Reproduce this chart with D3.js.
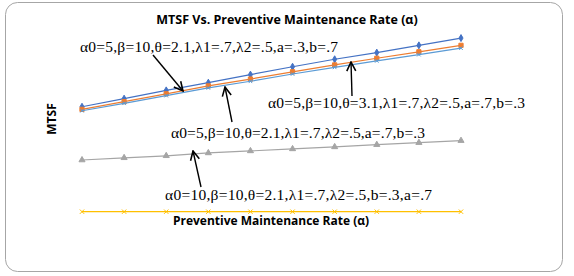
<!DOCTYPE html>
<html>
<head>
<meta charset="utf-8">
<script src="https://cdn.jsdelivr.net/npm/d3@7"></script>
<style>
  body { margin: 0; background: #fff; }
  svg { display: block; }
</style>
</head>
<body>
<svg id="chart" width="574" height="276"></svg>
<script>
// data
const alphaRates = [1, 2, 3, 4, 5, 6, 7, 8, 9, 10];
const seriesNames = ["s1", "s2", "s3", "s4", "s5"];
const mtsfBlue = [6.20, 6.60, 7.01, 7.39, 7.79, 8.18, 8.55, 8.88, 9.24, 9.60];
const mtsfOrange = [6.07, 6.45, 6.84, 7.23, 7.57, 7.93, 8.27, 8.60, 8.92, 9.24];
const mtsfGray = [3.56, 3.67, 3.77, 3.91, 4.01, 4.11, 4.21, 4.32, 4.42, 4.52];
const mtsfYellow = [1, 1, 1, 1, 1, 1, 1, 1, 1, 1];
const mtsfLightBlue = [6.00, 6.37, 6.75, 7.13, 7.46, 7.82, 8.15, 8.47, 8.78, 9.10];
const annotationTexts = [
    "α0=5,β=10,θ=2.1,λ1=.7,λ2=.5,a=.3,b=.7",
    "α0=5,β=10,θ=2.1,λ1=.7,λ2=.5,a=.7,b=.3",
    "α0=5,β=10,θ=3.1,λ1=.7,λ2=.5,a=.7,b=.3",
    "α0=10,β=10,θ=2.1,λ1=.7,λ2=.5,b=.3,a=.7"
];

const svg = d3.select('#chart');

// frame
svg.append('rect')
    .attr('x', 5.5).attr('y', 2.5)
    .attr('width', 557).attr('height', 269)
    .attr('rx', 12).attr('ry', 12)
    .attr('fill', '#fff')
    .attr('stroke', '#a6a6a6')
    .attr('stroke-width', 1);

const x = d3.scaleLinear().domain([1, 10]).range([82, 461]);
const y = d3.scaleLinear().domain([1, 10]).range([211.7, 30]);

const series = [
    {name: seriesNames[0], values: mtsfBlue, color: '#4472C4', marker: 'diamond'},
    {name: seriesNames[1], values: mtsfOrange, color: '#ED7D31', marker: 'square'},
    {name: seriesNames[2], values: mtsfGray, color: '#A5A5A5', marker: 'triangle'},
    {name: seriesNames[3], values: mtsfYellow, color: '#FFC000', marker: 'x'},
    {name: seriesNames[4], values: mtsfLightBlue, color: '#5B9BD5', marker: 'star'}
];

const line = d3.line()
    .x((d, i) => x(alphaRates[i]))
    .y(d => y(d));

const symbolFor = {
    diamond: d3.symbol().type(d3.symbolDiamond).size(14),
    square: d3.symbol().type(d3.symbolSquare).size(18),
    triangle: d3.symbol().type(d3.symbolTriangle).size(16),
    x: d3.symbol().type(d3.symbolX).size(14),
    star: d3.symbol().type(d3.symbolX).size(10)
};

const g = svg.append('g');
series.forEach(s => {
    g.append('path')
        .attr('d', line(s.values))
        .attr('fill', 'none')
        .attr('stroke', s.color)
        .attr('stroke-width', 1.2);
    g.selectAll(null)
        .data(s.values)
        .join('path')
        .attr('transform', (d, i) => `translate(${x(alphaRates[i])},${y(d)})`)
        .attr('d', symbolFor[s.marker])
        .attr('fill', s.marker === 'x' || s.marker === 'star' ? 'none' : s.color)
        .attr('stroke', s.color)
        .attr('stroke-width', 1);
});

// titles
svg.append('text')
    .attr('x', 287).attr('y', 24)
    .attr('text-anchor', 'middle')
    .attr('font-family', 'Open Sans, sans-serif')
    .attr('font-weight', 'bold')
    .attr('font-size', 12.5)
    .attr('fill', '#000')
    .text('MTSF Vs. Preventive Maintenance Rate (α)');

svg.append('text')
    .attr('x', 271).attr('y', 225)
    .attr('text-anchor', 'middle')
    .attr('font-family', 'Open Sans, sans-serif')
    .attr('font-weight', 'bold')
    .attr('font-size', 12)
    .attr('fill', '#000')
    .text('Preventive Maintenance Rate (α)');

svg.append('text')
    .attr('transform', 'translate(56,119) rotate(-90)')
    .attr('text-anchor', 'middle')
    .attr('font-family', 'Open Sans, sans-serif')
    .attr('font-weight', 'bold')
    .attr('font-size', 12)
    .attr('fill', '#000')
    .text('MTSF');

// annotations
svg.append('defs').append('marker')
    .attr('id', 'head')
    .attr('viewBox', '0 0 10 10')
    .attr('refX', 9).attr('refY', 5)
    .attr('markerWidth', 8).attr('markerHeight', 8)
    .attr('orient', 'auto')
    .append('path')
    .attr('d', 'M1,1 L9,5 L1,9')
    .attr('fill', 'none')
    .attr('stroke', '#000')
    .attr('stroke-width', 1.4);

const notes = [
    {text: annotationTexts[0], tx: 80, ty: 52, w: 258, from: [153, 55], to: [183, 91]},
    {text: annotationTexts[1], tx: 171, ty: 138, w: 254, from: [232, 122], to: [225, 87]},
    {text: annotationTexts[2], tx: 268, ty: 108, w: 257, from: [352, 96], to: [351, 62]},
    {text: annotationTexts[3], tx: 165, ty: 200, w: 267, from: [201, 187], to: [193, 151]}
];

notes.forEach(n => {
    svg.append('line')
        .attr('x1', n.from[0]).attr('y1', n.from[1])
        .attr('x2', n.to[0]).attr('y2', n.to[1])
        .attr('stroke', '#000')
        .attr('stroke-width', 1.4)
        .attr('marker-end', 'url(#head)');
    svg.append('text')
        .attr('x', n.tx).attr('y', n.ty)
        .attr('font-family', 'Liberation Serif, Times New Roman, serif')
        .attr('font-size', 15.5)
        .attr('fill', '#000')
        .attr('textLength', n.w)
        .attr('lengthAdjust', 'spacing')
        .text(n.text);
});
</script>
</body>
</html>
